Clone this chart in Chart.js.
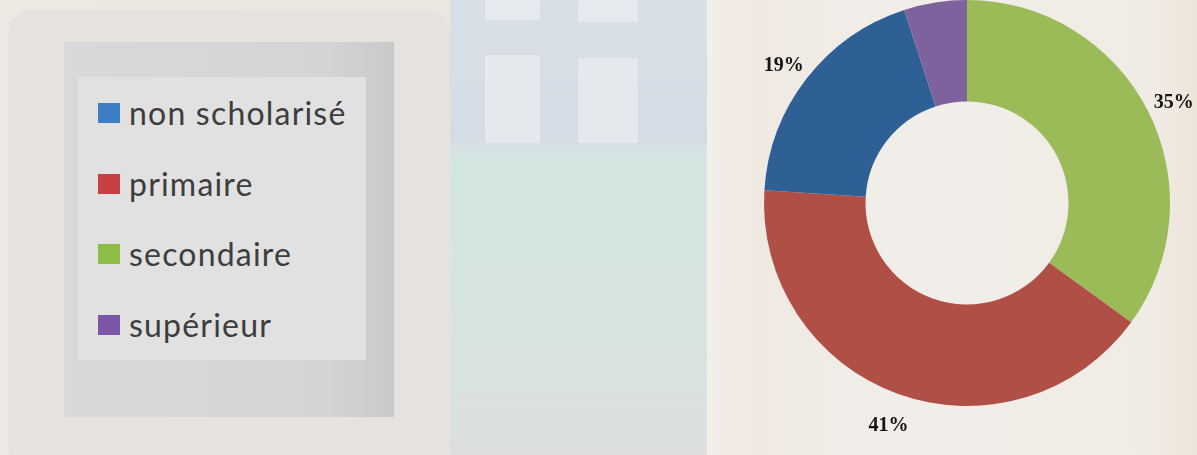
<!DOCTYPE html>
<html>
<head>
<meta charset="utf-8">
<script src="https://cdn.jsdelivr.net/npm/chart.js@4"></script>
<style>
  html, body { margin: 0; padding: 0; }
  body {
    width: 1197px; height: 455px; overflow: hidden; position: relative;
    background: linear-gradient(to right, #ede8e2 0px, #ebe6e0 450px, #e8ebee 452px, #e4e8ea 700px, #f3f0eb 708px, #f1ebe3 725px, #efe9e2 760px, #f1eee9 900px, #f0ebe4 1150px, #eee5d9 1197px);
  }
  #photo {
    position: absolute; left: 450px; top: 0; width: 257px; height: 455px;
    background: linear-gradient(to bottom, #d9dfe7 0px, #d6dce5 140px, #d3e6e2 156px, #d5e5e1 250px, #d7e4e0 330px, #dadfdf 430px, #dcdedd 455px);
  }
  .win { position: absolute; background: #eef0f1; opacity: 0.6; }
  #card {
    position: absolute; left: 8px; top: 10px; width: 442px; height: 460px;
    background: #e6e3de; border-radius: 24px;
  }
  #legendBox {
    position: absolute; left: 64px; top: 42px; width: 330px; height: 375px;
    background: linear-gradient(to right, #d9d9d9, #d4d4d4 80%, #c9c9c9);
  }
  #legendInner {
    position: absolute; left: 78px; top: 77px; width: 288px; height: 283px;
    background: #e1e1e1;
  }
  .item { position: absolute; left: 98px; height: 40px; display: flex; align-items: center; }
  .sw { width: 22px; height: 20px; margin-right: 9px; }
  .txt { font-family: Lato, "Open Sans", sans-serif; font-size: 32px; letter-spacing: 1.2px; color: #3d3d3d; line-height: 40px; }
  #c { position: absolute; left: 0; top: 0; }
</style>
</head>
<body>
<div id="photo">
  <div class="win" style="left:35px;top:0;width:55px;height:20px"></div>
  <div class="win" style="left:128px;top:0;width:60px;height:22px"></div>
  <div class="win" style="left:35px;top:55px;width:55px;height:88px"></div>
  <div class="win" style="left:128px;top:58px;width:60px;height:85px"></div>
</div>
<div id="card"></div>
<div id="legendBox"></div>
<div id="legendInner"></div>
<div id="legend"></div>
<canvas id="c" width="1197" height="455"></canvas>
<script>
// legend order
const labels = ['non scholarisé', 'primaire', 'secondaire', 'supérieur'];
const values = [19, 41, 35, 5];
const sliceColors = ['#2e6096', '#b04f46', '#9bbb59', '#7d629e'];
const swatchColors = ['#3e7cc4', '#c8403f', '#8dbd48', '#7b55a6'];
const showLabel = [true, true, true, false];
// clockwise from the top
const drawOrder = [2, 1, 0, 3];

// legend (html)
const legendDiv = document.getElementById('legend');
labels.forEach(function(l, i) {
  const row = document.createElement('div');
  row.className = 'item';
  row.style.top = (93 + i * 70.5) + 'px';
  row.innerHTML = '<div class="sw" style="background:' + swatchColors[i] + '"></div><span class="txt">' + l + '</span>';
  legendDiv.appendChild(row);
});

const outsideLabels = {
  id: 'outsideLabels',
  afterDatasetsDraw(chart) {
    const ctx = chart.ctx;
    const meta = chart.getDatasetMeta(0);
    ctx.save();
    ctx.font = 'bold 20px "Liberation Serif", "DejaVu Serif", serif';
    ctx.fillStyle = '#141414';
    ctx.textAlign = 'center';
    ctx.textBaseline = 'middle';
    meta.data.forEach(function(arc, j) {
      const idx = drawOrder[j];
      if (!showLabel[idx]) return;
      const p = arc.getProps(['x', 'y', 'startAngle', 'endAngle', 'outerRadius'], true);
      const a = (p.startAngle + p.endAngle) / 2;
      const r = p.outerRadius + 29;
      ctx.fillText(values[idx] + '%', p.x + Math.cos(a) * r, p.y + Math.sin(a) * r + 5);
    });
    ctx.restore();
  }
};

new Chart('c', {
  type: 'doughnut',
  data: {
    labels: drawOrder.map(i => labels[i]),
    datasets: [{
      data: drawOrder.map(i => values[i]),
      backgroundColor: drawOrder.map(i => sliceColors[i]),
      borderWidth: 0,
      hoverOffset: 0,
      offset: 0
    }]
  },
  options: {
    responsive: false,
    animation: false,
    cutout: '50%',
    layout: { padding: { left: 764, right: 27, top: 0, bottom: 49 } },
    plugins: { legend: { display: false }, tooltip: { enabled: false } }
  },
  plugins: [outsideLabels]
});
</script>
</body>
</html>
